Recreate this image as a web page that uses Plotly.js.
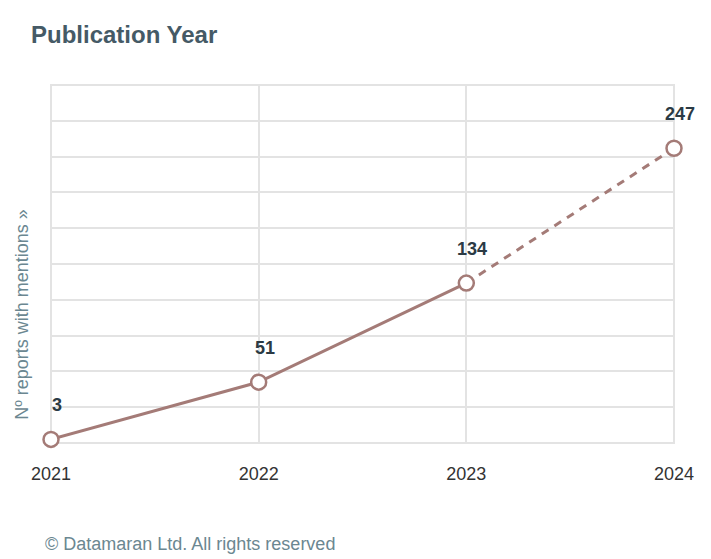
<!DOCTYPE html>
<html>
<head>
<meta charset="utf-8">
<script src="https://cdn.plot.ly/plotly-3.0.1.min.js"></script>
<style>html,body{margin:0;padding:0;background:#fff;}#chart{width:711px;height:559px;}</style>
</head>
<body>
<div id="chart"></div>
<script>
const years = ['2021', '2022', '2023', '2024'];
const reports = [3, 51, 134, 247];
const projectedFrom = 2; // index where dashed (projected) segment starts

const lineColor = '#a47b77';
const font = 'Liberation Sans, Arial, Helvetica, sans-serif';

const traces = [
  {
    x: years.slice(0, projectedFrom + 1),
    y: reports.slice(0, projectedFrom + 1),
    mode: 'lines',
    line: {color: lineColor, width: 3},
    hoverinfo: 'skip',
    showlegend: false
  },
  {
    x: years.slice(projectedFrom),
    y: reports.slice(projectedFrom),
    mode: 'lines',
    line: {color: lineColor, width: 3, dash: '8px,7px'},
    hoverinfo: 'skip',
    showlegend: false
  },
  {
    x: years,
    y: reports,
    mode: 'markers',
    marker: {size: 15, color: '#ffffff', line: {color: lineColor, width: 2.5}},
    cliponaxis: false,
    showlegend: false
  }
];

const annotations = years.map((yr, i) => ({
  x: i, y: reports[i], xref: 'x', yref: 'y',
  text: '<b>' + reports[i] + '</b>',
  showarrow: false,
  xshift: 6, yshift: 34,
  font: {family: font, size: 18, color: '#2b3a44'}
}));

annotations.push({
  xref: 'paper', yref: 'paper', x: -0.047, y: 0.36,
  xanchor: 'center', yanchor: 'middle', textangle: -90,
  text: 'Nº reports with mentions »', showarrow: false,
  font: {family: font, size: 18, color: '#6b8791'}
});
annotations.push({
  xref: 'paper', yref: 'paper', x: -0.013, y: -0.282,
  xanchor: 'left', yanchor: 'middle',
  text: '© Datamaran Ltd. All rights reserved', showarrow: false,
  font: {family: font, size: 18, color: '#6b8791'}
});

const layout = {
  width: 711, height: 559,
  margin: {l: 51, r: 37, t: 85, b: 116},
  paper_bgcolor: '#ffffff', plot_bgcolor: '#ffffff',
  font: {family: font},
  title: {
    text: '<b>Publication Year</b>',
    x: 31 / 711, xanchor: 'left', xref: 'container',
    y: 1 - 35 / 559, yanchor: 'middle', yref: 'container',
    font: {family: font, size: 24, color: '#455a66'}
  },
  xaxis: {
    type: 'category',
    range: [0, 3],
    showgrid: true, gridcolor: '#e3e3e3', gridwidth: 2,
    zeroline: false, showline: false,
    ticks: '', ticklabelstandoff: 18,
    tickfont: {family: font, size: 18, color: '#333333'},
    fixedrange: true
  },
  yaxis: {
    range: [0, 300], dtick: 30, tick0: 0,
    showgrid: true, gridcolor: '#e3e3e3', gridwidth: 2,
    zeroline: false, showline: false,
    showticklabels: false, ticks: '',
    fixedrange: true
  },
  shapes: [{
    type: 'rect', xref: 'paper', yref: 'paper', x0: 0, x1: 1, y0: 0, y1: 1,
    line: {color: '#e3e3e3', width: 2}, layer: 'below'
  }],
  annotations: annotations,
  showlegend: false
};

Plotly.newPlot('chart', traces, layout, {displayModeBar: false, staticPlot: true});
</script>
</body>
</html>
